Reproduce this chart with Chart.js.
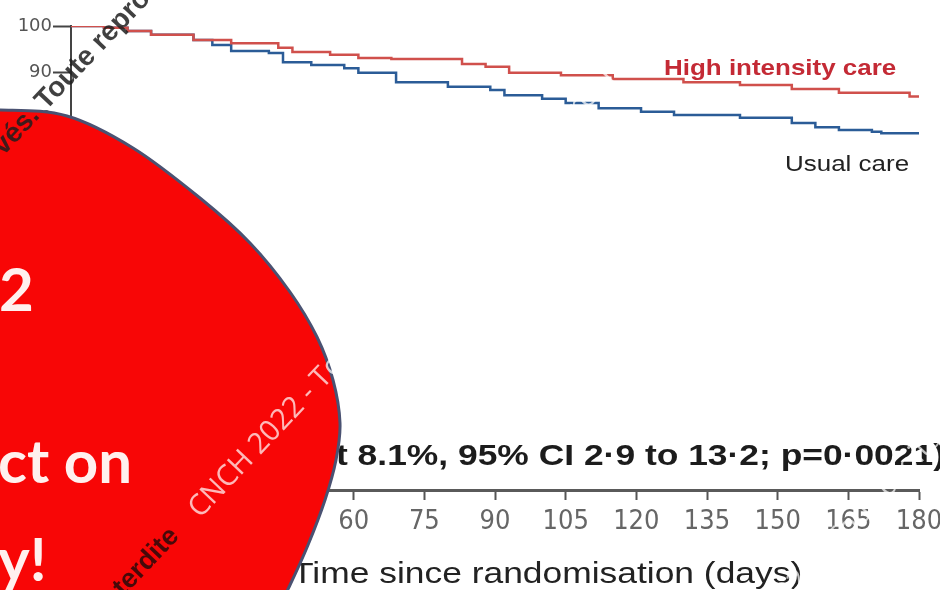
<!DOCTYPE html>
<html lang="en">
<head>
<meta charset="UTF-8">
<title>High intensity care vs usual care</title>
<script src="https://cdn.jsdelivr.net/npm/chart.js"></script>
<style>
  html, body { margin: 0; padding: 0; background: #fff; }
  #wrap { width: 940px; height: 590px; position: relative; }
</style>
</head>
<body>
<div id="wrap"><canvas id="km"></canvas></div>
<script>
// survival (%), step drops at each day
const hiDays = [0, 7, 12, 17, 26, 34, 44, 47, 55, 61, 68, 83, 88, 93, 104, 115, 130, 142, 153, 163, 178, 180];
const hiSurv = [100, 99.6, 98.9, 98.1, 97.0, 96.3, 95.3, 94.4, 93.8, 93.1, 92.9, 91.8, 91.2, 89.9, 89.4, 88.6, 87.9, 87.3, 86.4, 85.6, 84.8, 84.8];
const ucDays = [0, 7, 12, 17, 26, 30, 34, 42, 45, 51, 58, 61, 69, 80, 89, 92, 100, 105, 112, 121, 128, 142, 153, 158, 163, 170, 172, 180];
const ucSurv = [100, 99.6, 98.9, 98.1, 97.0, 95.9, 94.6, 94.2, 92.2, 91.6, 90.9, 89.9, 87.9, 86.9, 86.2, 85.1, 84.3, 83.4, 82.3, 81.5, 80.8, 80.2, 79.1, 78.2, 77.6, 77.2, 76.9, 76.9];
const seriesNames = ['High intensity care', 'Usual care'];
const xTitle = 'Time since randomisation (days)';
const statText = 't 8.1%, 95% CI 2·9 to 13·2; p=0·0021)';
const slideWords = ['2', 'ct on', 'y!'];
const wmLight = 'CNCH 2022 - Tous droits réservés. Toute reproduction interdite';

const HS = 1.18; // figure on the slide is stretched sideways
const WM_ANGLE = -46.6 * Math.PI / 180;

function stretchText(ctx, text, x, y, font, color) {
  ctx.save();
  ctx.translate(x, y);
  ctx.scale(HS, 1);
  ctx.font = font;
  ctx.fillStyle = color;
  ctx.textAlign = 'left';
  ctx.textBaseline = 'alphabetic';
  ctx.fillText(text, 0, 0);
  ctx.restore();
}

function wm(ctx, text, x, y, font, color, align) {
  ctx.save();
  ctx.translate(x, y);
  ctx.rotate(WM_ANGLE);
  ctx.font = font;
  ctx.fillStyle = color;
  ctx.textAlign = align;
  ctx.textBaseline = 'alphabetic';
  ctx.fillText(text, 0, 0);
  ctx.restore();
}

// outline of the red disc that sits over the slide
const blobEdge = [[-70, 112], [0, 110], [67, 116], [133, 148], [200, 198], [250, 243], [290, 292],
                  [317, 337], [333, 380], [340, 423], [336, 460], [325, 500], [308, 545], [290, 585], [270, 625]];

function blobPath(ctx, pts, close) {
  ctx.beginPath();
  ctx.moveTo(pts[0][0], pts[0][1]);
  for (let i = 0; i < pts.length - 1; i++) {
    const p0 = pts[Math.max(i - 1, 0)], p1 = pts[i], p2 = pts[i + 1], p3 = pts[Math.min(i + 2, pts.length - 1)];
    ctx.bezierCurveTo(p1[0] + (p2[0] - p0[0]) / 6, p1[1] + (p2[1] - p0[1]) / 6,
                      p2[0] - (p3[0] - p1[0]) / 6, p2[1] - (p3[1] - p1[1]) / 6, p2[0], p2[1]);
  }
  if (close) {
    ctx.lineTo(-120, 700);
    ctx.lineTo(-120, 100);
    ctx.closePath();
  }
}

const overlay = {
  id: 'overlay',
  afterDraw(chart) {
    const ctx = chart.ctx;
    // curve labels, stats line, axis title
    stretchText(ctx, seriesNames[0], 664, 75, 'bold 22px "Liberation Sans", Arial, sans-serif', '#c42a35');
    stretchText(ctx, seriesNames[1], 785, 171, '22px "Liberation Sans", Arial, sans-serif', '#222');
    stretchText(ctx, statText, 336, 465, 'bold 30px "Liberation Sans", Arial, sans-serif', '#1c1c1c');
    stretchText(ctx, xTitle, 292, 583, '30px "Liberation Sans", Arial, sans-serif', '#222');

    // red disc
    ctx.save();
    blobPath(ctx, blobEdge, true);
    ctx.fillStyle = '#f80606';
    ctx.fill();
    blobPath(ctx, blobEdge, false);
    ctx.strokeStyle = '#4a5272';
    ctx.lineWidth = 3;
    ctx.stroke();
    ctx.restore();

    ctx.save();
    ctx.font = 'bold 60px Lato, "Open Sans", sans-serif';
    ctx.fillStyle = '#fff0ee';
    ctx.textBaseline = 'alphabetic';
    ctx.fillText(slideWords[0], -1, 311);
    ctx.fillText(slideWords[1], -2, 483);
    ctx.fillText(slideWords[2], -2, 581);
    ctx.restore();

    // watermark lines
    const dark = 'bold 28px "Liberation Sans", Arial, sans-serif';
    wm(ctx, 'Tous droits réservés. ', 46, 111, dark, 'rgba(30,30,30,0.85)', 'right');
    wm(ctx, 'Toute reproduction interdite', 46, 111, dark, 'rgba(30,30,30,0.85)', 'left');
    wm(ctx, 'interdite', 180, 537, 'bold 27px "Liberation Sans", Arial, sans-serif', 'rgba(40,10,10,0.85)', 'right');
    wm(ctx, wmLight, 200, 519, '29px "Open Sans", sans-serif', 'rgba(255,255,255,0.72)', 'left');
    wm(ctx, wmLight, 716, 680, '29px "Open Sans", sans-serif', 'rgba(255,255,255,0.72)', 'left');
  }
};

const ctx = document.getElementById('km').getContext('2d');

new Chart(ctx, {
  type: 'line',
  data: {
    datasets: [{
      label: seriesNames[0],
      data: hiDays.map((d, i) => ({ x: d, y: hiSurv[i] })),
      borderColor: '#d0504c',
      borderWidth: 2.5,
      pointRadius: 0,
      stepped: true,
      fill: false
    }, {
      label: seriesNames[1],
      data: ucDays.map((d, i) => ({ x: d, y: ucSurv[i] })),
      borderColor: '#2b5c97',
      borderWidth: 2.5,
      pointRadius: 0,
      stepped: true,
      fill: false
    }]
  },
  options: {
    responsive: true,
    maintainAspectRatio: false,
    animation: false,
    layout: { padding: { top: 26, right: 21, left: 0, bottom: 0 } },
    plugins: {
      legend: { display: false },
      tooltip: { enabled: false }
    },
    scales: {
      x: {
        type: 'linear',
        min: 0,
        max: 180,
        ticks: {
          stepSize: 15,
          padding: 6,
          color: '#666',
          font: { family: '"Liberation Sans Narrow", "DejaVu Sans Condensed", sans-serif', size: 27 }
        },
        grid: { drawOnChartArea: false, tickLength: 10, tickColor: '#555', tickWidth: 2 },
        border: { display: true, color: '#5a5a5a', width: 3 },
        afterFit(scale) {
          scale.height = 100;
          scale.paddingLeft = 0;
          scale.paddingRight = 0;
        }
      },
      y: {
        min: 0,
        max: 100,
        ticks: {
          stepSize: 10,
          padding: 1,
          color: '#555',
          font: { family: '"DejaVu Sans", sans-serif', size: 18 }
        },
        grid: { drawOnChartArea: false, tickLength: 18, tickColor: '#444', tickWidth: 2 },
        border: { display: true, color: '#444', width: 2 },
        afterFit(scale) {
          scale.width = 71;
          scale.paddingTop = 0;
          scale.paddingBottom = 0;
        }
      }
    }
  },
  plugins: [overlay]
});
</script>
</body>
</html>
